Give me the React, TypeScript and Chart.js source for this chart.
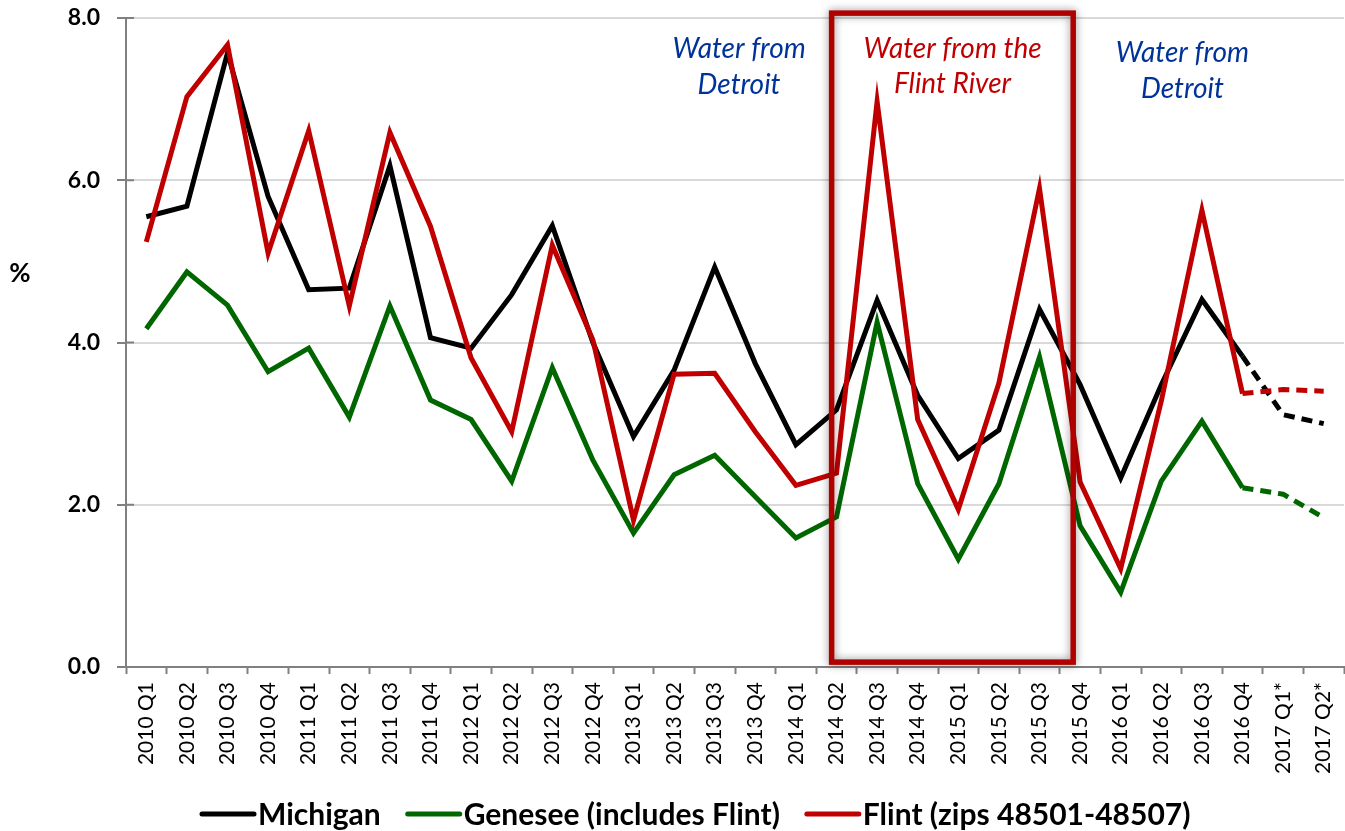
import React, { useEffect, useRef } from "react";
import { Chart, registerables } from "chart.js";
Chart.register(...registerables);

const categories = [
  "2010 Q1", "2010 Q2", "2010 Q3", "2010 Q4",
  "2011 Q1", "2011 Q2", "2011 Q3", "2011 Q4",
  "2012 Q1", "2012 Q2", "2012 Q3", "2012 Q4",
  "2013 Q1", "2013 Q2", "2013 Q3", "2013 Q4",
  "2014 Q1", "2014 Q2", "2014 Q3", "2014 Q4",
  "2015 Q1", "2015 Q2", "2015 Q3", "2015 Q4",
  "2016 Q1", "2016 Q2", "2016 Q3", "2016 Q4",
  "2017 Q1*", "2017 Q2*",
];

const michigan = [
  5.55, 5.68, 7.57, 5.8,
  4.65, 4.67, 6.18, 4.06,
  3.93, 4.59, 5.44, 4.0,
  2.84, 3.66, 4.93, 3.74,
  2.74, 3.17, 4.52, 3.35,
  2.57, 2.92, 4.41, 3.48,
  2.33, 3.48, 4.53, 3.83,
  3.11, 3.0,
];

const genesee = [
  4.17, 4.87, 4.46, 3.64,
  3.93, 3.08, 4.45, 3.29,
  3.05, 2.29, 3.69, 2.55,
  1.65, 2.37, 2.61, 2.1,
  1.59, 1.85, 4.25, 2.26,
  1.33, 2.26, 3.82, 1.74,
  0.92, 2.29, 3.03, 2.21,
  2.13, 1.84,
];

const flint = [
  5.24, 7.03, 7.67, 5.1,
  6.61, 4.45, 6.59, 5.43,
  3.81, 2.9, 5.2, 4.03,
  1.81, 3.61, 3.62, 2.9,
  2.24, 2.39, 6.97, 3.05,
  1.94, 3.5, 5.9, 2.28,
  1.21, 3.28, 5.63, 3.37,
  3.42, 3.4,
];

const seriesNames = ["Michigan", "Genesee (includes Flint)", "Flint (zips 48501-48507)"];
const seriesColors = ["#000000", "#006600", "#C00000"];
const firstProjectedIndex = 27; // segments after 2016 Q4 are dashed
const yTickValues = [0, 2, 4, 6, 8];

const annotations = [
  { lines: ["Water from", "Detroit"], center: 14.6, color: "#003399", baselines: [58, 94] },
  { lines: ["Water from the", "Flint River"], center: 19.86, color: "#C00000", baselines: [58, 93] },
  { lines: ["Water from", "Detroit"], center: 25.52, color: "#003399", baselines: [62, 98] },
];
const flintPeriod = { from: 16.88, to: 22.83, top: 8.06, bottom: 0.06 };

const FONT = "Lato, 'Open Sans', 'DejaVu Sans', sans-serif";

const overlayPlugin = {
  id: "overlay",
  afterDatasetsDraw(chart: any) {
    const ctx = chart.ctx;
    const xs = chart.scales.x;
    const ys = chart.scales.y;
    const l = xs.getPixelForValue(flintPeriod.from);
    const r = xs.getPixelForValue(flintPeriod.to);
    const t = ys.getPixelForValue(flintPeriod.top);
    const b = ys.getPixelForValue(flintPeriod.bottom);
    ctx.save();
    ctx.shadowColor = "rgba(0,0,0,0.45)";
    ctx.shadowBlur = 9;
    ctx.strokeStyle = "#B00000";
    ctx.lineWidth = 5.5;
    ctx.strokeRect(l, t, r - l, b - t);
    ctx.restore();
  },
  afterDraw(chart: any) {
    const ctx = chart.ctx;
    const xs = chart.scales.x;
    const ys = chart.scales.y;
    ctx.save();
    ctx.strokeStyle = "#808080";
    ctx.lineWidth = 2;
    for (const v of yTickValues) {
      const py = ys.getPixelForValue(v);
      ctx.beginPath();
      ctx.moveTo(chart.chartArea.left, py);
      ctx.lineTo(chart.chartArea.left + 8, py);
      ctx.stroke();
    }
    ctx.font = `italic 28px ${FONT}`;
    ctx.textAlign = "center";
    ctx.textBaseline = "alphabetic";
    for (const a of annotations) {
      ctx.fillStyle = a.color;
      const cx = xs.getPixelForValue(a.center);
      a.lines.forEach((line, i) => ctx.fillText(line, cx, a.baselines[i]));
    }
    ctx.fillStyle = "#000";
    ctx.font = `bold 26px ${FONT}`;
    ctx.textBaseline = "middle";
    ctx.fillText("%", 20, 274);
    ctx.font = `bold 30px ${FONT}`;
    ctx.textAlign = "left";
    let x = 202;
    const y = 814;
    seriesNames.forEach((name, i) => {
      ctx.strokeStyle = seriesColors[i];
      ctx.lineWidth = 5;
      ctx.lineCap = "round";
      ctx.beginPath();
      ctx.moveTo(x, y);
      ctx.lineTo(x + 52, y);
      ctx.stroke();
      ctx.fillStyle = "#000";
      ctx.fillText(name, x + 56, y + 1);
      x += 56 + ctx.measureText(name).width + 27;
    });
    ctx.restore();
  },
};

export default function App() {
  const ref = useRef<HTMLCanvasElement | null>(null);
  useEffect(() => {
    if (!ref.current) return;
    const mk = (data: number[], i: number, order: number) => ({
      label: seriesNames[i],
      data,
      borderColor: seriesColors[i],
      backgroundColor: seriesColors[i],
      borderWidth: 5,
      pointRadius: 0,
      tension: 0,
      order,
      borderJoinStyle: "miter" as const,
      segment: {
        borderDash: (c: any) => (c.p0DataIndex >= firstProjectedIndex ? [11, 7] : undefined),
      },
    });
    const chart = new Chart(ref.current, {
      type: "line",
      data: {
        labels: categories,
        datasets: [mk(michigan, 0, 2), mk(genesee, 1, 1), mk(flint, 2, 0)],
      },
      options: {
        responsive: false,
        animation: false,
        layout: { padding: { top: 18, left: 0, right: 1, bottom: 44 } },
        plugins: { legend: { display: false }, tooltip: { enabled: false }, title: { display: false } },
        scales: {
          x: {
            offset: true,
            afterFit: (s: any) => { s.height = 120; s.paddingLeft = 0; s.paddingRight = 0; },
            grid: { drawOnChartArea: false, drawTicks: true, tickLength: 7, tickColor: "#808080", tickWidth: 2, offset: true },
            border: { color: "#808080", width: 2 },
            ticks: {
              autoSkip: false,
              minRotation: 90,
              maxRotation: 90,
              padding: 8,
              color: "#000",
              font: { family: FONT, size: 21 },
            },
          },
          y: {
            min: 0,
            max: 8,
            afterFit: (s: any) => { s.width = 126; s.paddingTop = 0; s.paddingBottom = 0; },
            afterBuildTicks: (s: any) => { s.ticks = yTickValues.map((v) => ({ value: v })); },
            grid: { color: "#d9d9d9", lineWidth: 2, tickLength: 9, tickColor: "#808080", tickWidth: 2 },
            border: { color: "#808080", width: 2 },
            ticks: {
              padding: 17,
              color: "#000",
              font: { family: FONT, size: 23, weight: "bold" },
              callback: (v: any) => Number(v).toFixed(1),
            },
          },
        },
      },
      plugins: [overlayPlugin],
    });
    return () => chart.destroy();
  }, []);
  return (
    <div style={{ position: "absolute", left: 0, top: 0, width: 1345, height: 831, background: "#fff" }}>
      <canvas ref={ref} width={1345} height={831} style={{ display: "block" }} />
    </div>
  );
}
